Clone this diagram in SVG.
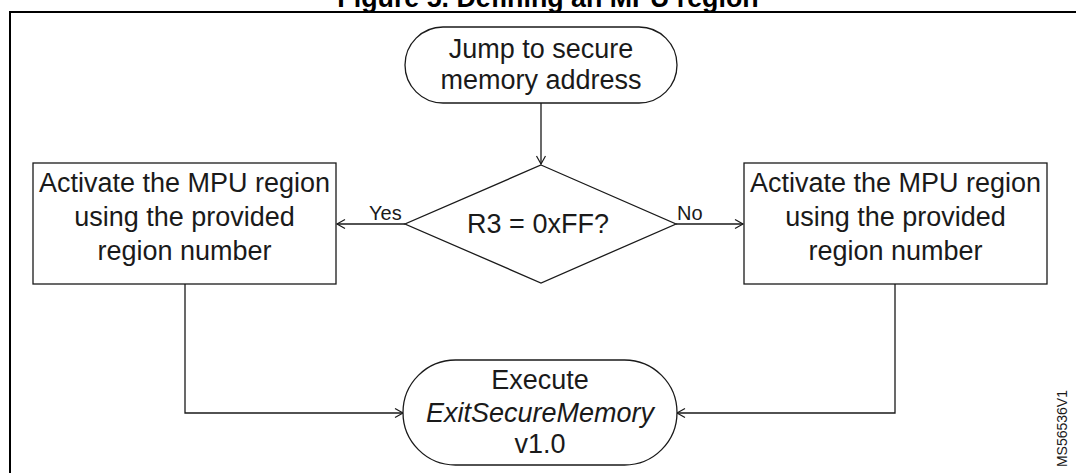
<svg xmlns="http://www.w3.org/2000/svg" width="1076" height="473" viewBox="0 0 1076 473">
  <style>
    .shape { fill: #ffffff; stroke: #1a1a1a; stroke-width: 1.3; }
    .conn { fill: none; stroke: #1a1a1a; stroke-width: 1.3; }
    .t { font-family: "Liberation Sans", Arial, sans-serif; font-size: 27px; fill: #1a1a1a; text-anchor: middle; }
    .lbl { font-family: "Liberation Sans", Arial, sans-serif; font-size: 20px; fill: #1a1a1a; }
    .title { font-family: "Liberation Sans", Arial, sans-serif; font-size: 26.8px; font-weight: bold; fill: #000; text-anchor: middle; }
    .id { font-family: "Liberation Sans", Arial, sans-serif; font-size: 14px; fill: #1a1a1a; text-anchor: end; }
  </style>
  <defs>
    <marker id="arr" markerUnits="userSpaceOnUse" markerWidth="12" markerHeight="12" refX="9" refY="5" orient="auto">
      <path d="M1,0.5 L9,5 L1,9.5" fill="none" stroke="#1a1a1a" stroke-width="1.2"/>
    </marker>
  </defs>
  <rect width="1076" height="473" fill="#ffffff"/>
  <text class="title" x="548" y="7">Figure 5. Defining an MPU region</text>
  <path d="M10,474 L10,12 L1077,12" fill="none" stroke="#000" stroke-width="2"/>

  <g id="connectors">
    <path class="conn" d="M541,103 L541,164" marker-end="url(#arr)"/>
    <path class="conn" d="M405,224 L337,224" marker-end="url(#arr)"/>
    <path class="conn" d="M676,224 L743,224" marker-end="url(#arr)"/>
    <path class="conn" d="M185,284 L185,413 L403,413" marker-end="url(#arr)"/>
    <path class="conn" d="M895,284 L895,413 L677,413" marker-end="url(#arr)"/>
    <text class="lbl" x="369" y="220">Yes</text>
    <text class="lbl" x="677" y="220">No</text>
  </g>

  <g id="start">
    <rect class="shape" x="405" y="27" width="272" height="76" rx="38" ry="38"/>
    <text class="t" x="541" y="58">Jump to secure</text>
    <text class="t" x="541" y="89">memory address</text>
  </g>

  <g id="decision">
    <polygon class="shape" points="541,165 676,224 541,283 405,224"/>
    <text class="t" x="538" y="233">R3 = 0xFF?</text>
  </g>

  <g id="left-box">
    <rect class="shape" x="33" y="163" width="303" height="121"/>
    <text class="t" x="184.5" y="192">Activate the MPU region</text>
    <text class="t" x="184.5" y="226">using the provided</text>
    <text class="t" x="184.5" y="260">region number</text>
  </g>

  <g id="right-box">
    <rect class="shape" x="744" y="163" width="303" height="121"/>
    <text class="t" x="895.5" y="192">Activate the MPU region</text>
    <text class="t" x="895.5" y="226">using the provided</text>
    <text class="t" x="895.5" y="260">region number</text>
  </g>

  <g id="end">
    <rect class="shape" x="403" y="360" width="274" height="105" rx="52.5" ry="52.5"/>
    <text class="t" x="540" y="389">Execute</text>
    <text class="t" x="540" y="422" font-style="italic">ExitSecureMemory</text>
    <text class="t" x="540" y="453">v1.0</text>
  </g>

  <text class="id" transform="translate(1067,390) rotate(-90)">MS56536V1</text>
</svg>
